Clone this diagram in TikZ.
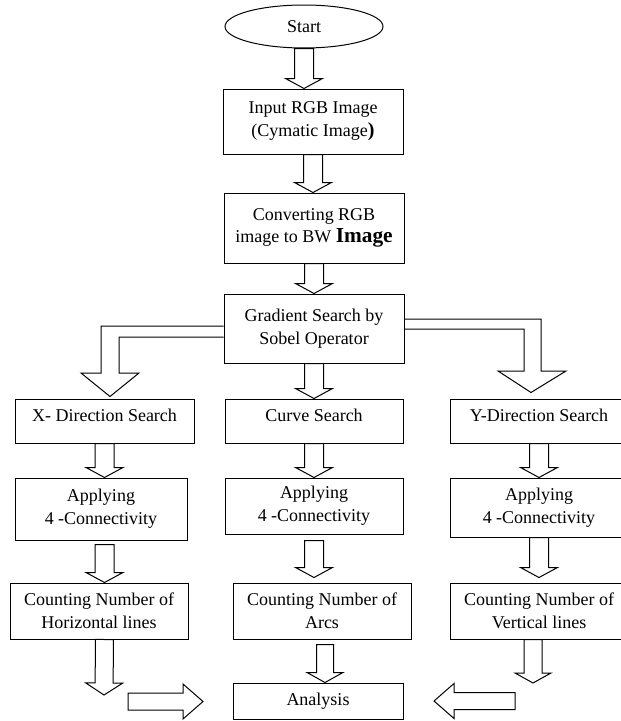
\documentclass[tikz,border=0pt]{standalone}
\usepackage{fontspec}
\setmainfont{Liberation Serif}
\usetikzlibrary{calc,shapes.geometric}

\begin{document}
\begin{tikzpicture}[
x=0.75pt, y=0.75pt,
font=\fontsize{13.5}{17}\selectfont,
line width=0.75pt,
box/.style={
	draw, rectangle, inner sep=0pt,
	align=center, minimum width=133.5pt
},
one/.style={text height=9pt, text depth=9pt},
blk/.style args={#1/#2/#3}{
	to path={let \p1=(\tikztostart), \p2=(\tikztotarget),
		\n1={atan2(\y2-\y1,\x2-\x1)} in
		($(\p1)+({\n1+90}:#1)$)
		-- ($(\p2)+({\n1+180}:#3)+({\n1+90}:#1)$)
		-- ($(\p2)+({\n1+180}:#3)+({\n1+90}:#2)$)
		-- (\p2)
		-- ($(\p2)+({\n1+180}:#3)+({\n1-90}:#2)$)
		-- ($(\p2)+({\n1+180}:#3)+({\n1-90}:#1)$)
		-- ($(\p1)+({\n1-90}:#1)$) -- cycle}
},
blk/.default={9.5/18.5/10}
]
\useasboundingbox (0,0) rectangle (621,-721);

\node[draw, ellipse, inner sep=0pt, minimum width=118.5pt, minimum height=32.25pt] (S) at (304,-26.5) {Start};
\node[box, minimum width=135pt, minimum height=48.75pt] (1) at (313,-121.5)
	{Input RGB Image\\(Cymatic Image{\bfseries\fontsize{15}{17}\selectfont )}};
\node[box, minimum width=135pt, minimum height=52.5pt] (2) at (314,-228)
	{Converting RGB\\image to BW {\bfseries\fontsize{16}{17}\selectfont Image}};
\node[box, minimum width=135pt, minimum height=51.75pt] (3) at (314,-328.5)
	{Gradient Search by\\Sobel Operator};

\node[box, one, minimum width=134.25pt, minimum height=33pt] (X1) at (104.5,-421) {X- Direction Search};
\node[box, one, minimum height=33pt] (C1) at (314,-421) {Curve Search};
\node[box, one, minimum height=33pt] (Y1) at (539,-421) {Y-Direction Search};

\node[box, minimum width=129pt, minimum height=46.5pt] (X2) at (101,-509) {Applying\\4 -Connectivity};
\node[box, minimum height=42pt] (C2) at (314,-506) {Applying\\4 -Connectivity};
\node[box, minimum height=44.25pt] (Y2) at (539,-507.5) {Applying\\4 -Connectivity};

\node[box, minimum height=42pt] (X3) at (99,-611) {Counting Number of\\Horizontal lines};
\node[box, minimum height=42pt] (C3) at (322,-611) {Counting Number of\\Arcs};
\node[box, minimum height=42pt] (Y3) at (539,-611) {Counting Number of\\Vertical lines};

\node[box, minimum width=127.5pt, minimum height=27pt] (A) at (318,-701) {Analysis};

\coordinate (xe) at (104,-695);
\coordinate (ye) at (533,-683);
\coordinate (l1) at (128,-701.5);
\coordinate (l2) at (203,-701.5);
\coordinate (r1) at (515,-701);
\coordinate (r2) at (434,-701);

% straight block arrows
\draw[blk] (S.south) to (S.south |- 1.north);
\foreach \i in {1,2}
{
	\pgfmathsetmacro\next{int(\i + 1)}
	\draw[blk] (\i.south) to (\i.south |- \next.north);
}
\draw[blk] (3.south) to (3.south |- C1.north);
\foreach \a/\b in {X1/X2, C1/C2, Y1/Y2}
	\draw[blk] (\a.south) to (\a.south |- \b.north);
\draw[blk] ($(X1.south |- X2.south)+(0,-4)$) to (X1.south |- X3.north);
\draw[blk] ($(C2.south)+(0,-6)$) to ($(C2.south |- C3.north)+(0,5)$);
\draw[blk] (Y2.south) to ($(Y2.south |- Y3.north)+(0,5)$);
\draw[blk=9/18.5/12] (X1.south |- X3.south) to (xe);
\draw[blk=8.5/18/10] ($(C3.south)+(3,-5)$) to ($(C3.south |- A.north)+(3,0)$);
\draw[blk=9/18/10] ($(Y3.south)+(-6,0)$) to (ye);
\draw[blk=8.5/17.5/20] (l1) to (l2);
\draw[blk=8.5/17.5/20] (r1) to (r2);

% bent block arrows
\draw ($(3.west)+(0,2.5)$) -| (101,-373) -- (81,-373) -- ($(X1.north)+(5.5,2)$)
	-- (139,-373) -- (119,-373) |- ($(3.west)+(0,-8.5)$);
\draw ($(3.east)+(0,9.5)$) -| (541,-371) -- (566,-371) -- ($(Y1.north)+(-8,6)$)
	-- (498,-371) -- (524,-371) |- ($(3.east)+(0,-0.5)$);
\end{tikzpicture}
\end{document}
